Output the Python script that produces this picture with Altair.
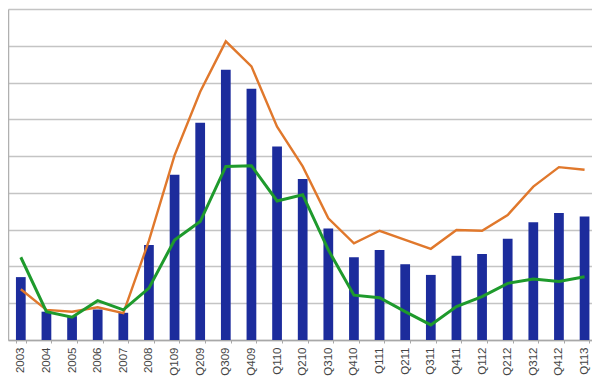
import altair as alt
import pandas as pd

categories = ["2003", "2004", "2005", "2006", "2007", "2008",
              "Q109", "Q209", "Q309", "Q409", "Q110", "Q210", "Q310", "Q410",
              "Q111", "Q211", "Q311", "Q411", "Q112", "Q212", "Q312", "Q412", "Q113"]
bar_values = [1.71, 0.77, 0.65, 0.83, 0.74, 2.58, 4.49, 5.91, 7.35, 6.83, 5.26, 4.38,
              3.03, 2.25, 2.45, 2.06, 1.77, 2.29, 2.34, 2.75, 3.20, 3.45, 3.36]
orange_values = [1.38, 0.82, 0.77, 0.89, 0.73, 2.70, 5.02, 6.75, 8.12, 7.44, 5.80, 4.72,
                 3.31, 2.63, 2.97, 2.72, 2.48, 2.99, 2.97, 3.40, 4.17, 4.70, 4.63]
green_values = [2.25, 0.77, 0.62, 1.07, 0.82, 1.41, 2.72, 3.22, 4.72, 4.74, 3.78, 3.95,
                2.45, 1.22, 1.15, 0.77, 0.41, 0.91, 1.18, 1.54, 1.66, 1.59, 1.72]
y_ticks = [0, 1, 2, 3, 4, 5, 6, 7, 8, 9]

df = pd.DataFrame({
    "cat": categories,
    "bar": bar_values,
    "orange": orange_values,
    "green": green_values,
})


def x_enc():
    return alt.X(
        "cat:N",
        sort=categories,
        title=None,
        scale=alt.Scale(paddingInner=0.62, paddingOuter=0.205, align=0.756),
        axis=alt.Axis(
            labelAngle=-90,
            labelFont="Liberation Sans",
            labelFontSize=11.5,
            labelColor="#444444",
            labelPadding=4,
            tickBand="extent",
            tickSize=3,
            tickColor="#a8a8a8",
            domainColor="#a8a8a8",
            domainWidth=1.5,
            grid=False,
        ),
    )


def y_enc(field):
    return alt.Y(
        field + ":Q",
        scale=alt.Scale(domain=[0, 9], nice=False, zero=True),
        title=None,
        axis=alt.Axis(
            values=y_ticks,
            labels=False,
            ticks=False,
            grid=True,
            gridColor="#c4c4c4",
            gridWidth=1.6,
            domainColor="#b0b0b0",
            domainWidth=1.5,
        ),
    )


bars = alt.Chart(df).mark_bar(color="#1C2C9C").encode(x=x_enc(), y=y_enc("bar"))
orange = alt.Chart(df).mark_line(color="#E0782C", strokeWidth=2.4).encode(x=x_enc(), y=y_enc("orange"))
green = alt.Chart(df).mark_line(color="#1E9A2C", strokeWidth=3).encode(x=x_enc(), y=y_enc("green"))

chart = alt.layer(bars, orange, green).properties(
    width=584,
    height=331,
    autosize=alt.AutoSizeParams(type="none"),
    padding={"left": 0, "top": 1, "right": 0, "bottom": 38},
).configure_view(stroke=None)

chart.save("out.html", embed_options={"renderer": "svg", "actions": False})
